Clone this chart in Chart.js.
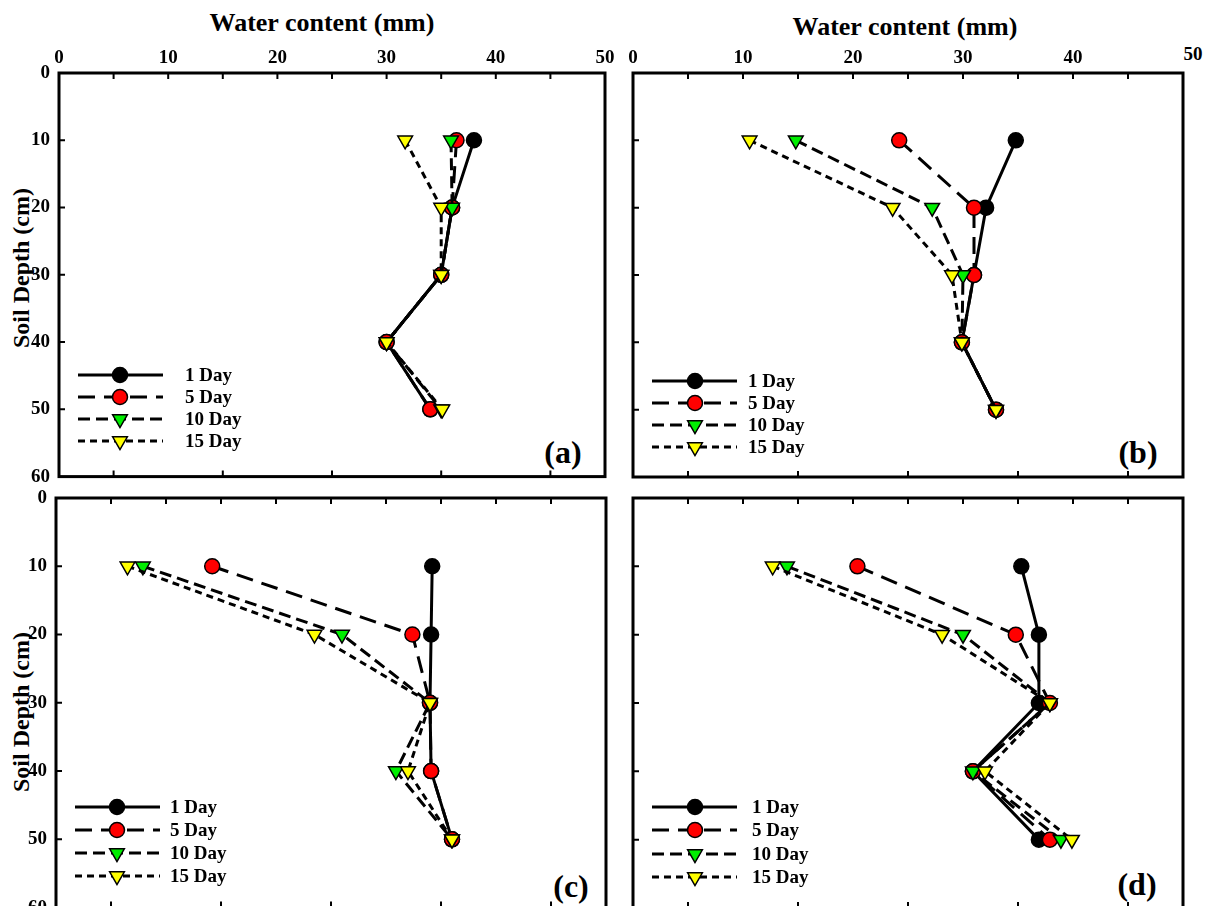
<!DOCTYPE html>
<html>
<head>
<meta charset="utf-8">
<title>Soil water content profiles</title>
<script src="https://cdn.jsdelivr.net/npm/chart.js@4.4.1/dist/chart.umd.min.js"></script>
<style>
  html, body { margin: 0; padding: 0; background: #fff; }
  body {
    width: 1209px; height: 906px; overflow: hidden; position: relative;
    font-family: "Liberation Serif", "Times New Roman", serif; font-weight: bold; color: #000;
  }
  canvas { position: absolute; }
  .txt { position: absolute; white-space: nowrap; line-height: 1; }
  .xtitle { font-size: 26px; transform: translate(-50%, -50%); }
  .ytitle { font-size: 24px; transform: translate(-50%, -50%) rotate(-90deg); }
  .plab { font-size: 32px; transform: translate(-50%, -50%); }
  .tick { font-size: 19px; transform: translate(-50%, -50%); }
</style>
</head>
<body>
<div class="txt xtitle" style="left:322px; top:23px;">Water content (mm)</div>
<div class="txt xtitle" style="left:905px; top:27px;">Water content (mm)</div>
<div class="txt tick" style="left:1193px; top:53px;">50</div>
<div class="txt ytitle" style="left:21px; top:268px;">Soil Depth (cm)</div>
<div class="txt ytitle" style="left:21px; top:712px;">Soil Depth (cm)</div>
<div class="txt plab" style="left:563px; top:452px;">(a)</div>
<div class="txt plab" style="left:1138px; top:452px;">(b)</div>
<div class="txt plab" style="left:571px; top:886px;">(c)</div>
<div class="txt plab" style="left:1137px; top:884px;">(d)</div>
<script>
// Depths (cm) and series names
const depths = [10, 20, 30, 40, 50];
const seriesNames = ['1 Day', '5 Day', '10 Day', '15 Day'];
const xTicks = [0, 10, 20, 30, 40, 50];
const yTicks = [0, 10, 20, 30, 40, 50, 60];
const topTicks = [5, 10, 15, 20, 25, 30, 35, 40, 45];
const bottomTicks = [5, 15, 25, 35, 45];
const leftTicks = [10, 20, 30, 40, 50];

// Water content (mm), panel (a)
const a1 = [38.0, 36.0, 35.0, 30.0, 34.0];
const a5 = [36.4, 36.0, 35.0, 30.0, 34.0];
const a10 = [35.9, 36.0, 35.0, 30.0, 35.0];
const a15 = [31.7, 35.0, 35.0, 30.0, 35.1];
// panel (b)
const b1 = [34.8, 32.1, 31.0, 29.9, 33.0];
const b5 = [24.2, 31.0, 31.0, 29.9, 33.0];
const b10 = [14.8, 27.2, 30.0, 29.9, 33.0];
const b15 = [10.6, 23.6, 29.0, 29.9, 33.0];
// panel (c)
const c1 = [34.2, 34.1, 34.0, 34.1, 36.0];
const c5 = [14.2, 32.4, 34.0, 34.1, 36.0];
const c10 = [7.9, 26.0, 34.0, 30.9, 36.0];
const c15 = [6.5, 23.5, 34.0, 32.0, 36.0];
// panel (d)
const d1 = [35.3, 36.9, 36.9, 30.9, 36.9];
const d5 = [20.4, 34.8, 37.9, 30.9, 37.9];
const d10 = [14.0, 30.0, 37.9, 30.9, 38.9];
const d15 = [12.7, 28.1, 37.9, 32.0, 39.9];

const seriesStyle = [
    { fill: '#000000', dash: [], shape: 'circle' },
    { fill: '#ff0000', dash: [17, 9], shape: 'circle' },
    { fill: '#00ee00', dash: [12, 6], shape: 'triangle' },
    { fill: '#ffff00', dash: [7, 5], shape: 'triangle' }
];

const panels = [
    { left: 59, top: 73, right: 605, bottom: 477, series: [a1, a5, a10, a15], xLabels: true, yLabels: true,
      legend: { x0: 78, x1: 163, mx: 120, tx: 185, rows: [375, 397, 419, 441] } },
    { left: 633, top: 73, right: 1183, bottom: 477, series: [b1, b5, b10, b15], xLabels: true, yLabels: false, hide50: true,
      legend: { x0: 652, x1: 737, mx: 695, tx: 748, rows: [381, 403, 425, 447] } },
    { left: 56, top: 498, right: 606, bottom: 908, series: [c1, c5, c10, c15], xLabels: false, yLabels: true,
      legend: { x0: 75, x1: 160, mx: 117, tx: 170, rows: [807, 830, 853, 876] } },
    { left: 633, top: 498, right: 1183, bottom: 908, series: [d1, d5, d10, d15], xLabels: false, yLabels: false,
      legend: { x0: 652, x1: 737, mx: 695, tx: 752, rows: [807, 830, 854, 877] } }
];

const PAD_L = 70, PAD_T = 50, PAD_R = 20, PAD_B = 20;
const tickFont = { family: '"Liberation Serif", "Times New Roman", serif', size: 19, weight: 'bold' };

function drawMarker(ctx, shape, x, y, fill) {
    ctx.beginPath();
    if (shape === 'circle') {
        ctx.arc(x, y, 7.5, 0, Math.PI * 2);
    } else {
        const r = 8.5;
        ctx.moveTo(x, y + r);
        ctx.lineTo(x - r * 0.866, y - r / 2);
        ctx.lineTo(x + r * 0.866, y - r / 2);
        ctx.closePath();
    }
    ctx.fillStyle = fill;
    ctx.fill();
    ctx.setLineDash([]);
    ctx.lineWidth = 1.5;
    ctx.strokeStyle = '#000';
    ctx.stroke();
}

// Box round the plot area, with short inward ticks
const framePlugin = {
    id: 'frame',
    beforeDatasetsDraw(chart) {
        const { ctx, chartArea: ca, scales: { x, y } } = chart;
        ctx.save();
        ctx.strokeStyle = '#000';
        ctx.lineWidth = 3;
        ctx.strokeRect(ca.left, ca.top, ca.right - ca.left, ca.bottom - ca.top);
        ctx.lineWidth = 2;
        ctx.beginPath();
        topTicks.forEach(v => {
            const px = x.getPixelForValue(v);
            ctx.moveTo(px, ca.top);
            ctx.lineTo(px, ca.top + 6);
        });
        bottomTicks.forEach(v => {
            const px = x.getPixelForValue(v);
            ctx.moveTo(px, ca.bottom);
            ctx.lineTo(px, ca.bottom - 6);
        });
        leftTicks.forEach(v => {
            const py = y.getPixelForValue(v);
            ctx.moveTo(ca.left, py);
            ctx.lineTo(ca.left + 6, py);
        });
        ctx.stroke();
        ctx.restore();
    }
};

// Legend drawn inside the plot: line sample, marker, then name
const legendPlugin = {
    id: 'panelLegend',
    afterDraw(chart, args, opts) {
        const ctx = chart.ctx;
        ctx.save();
        chart.data.datasets.forEach((ds, i) => {
            const st = seriesStyle[i];
            const ry = opts.rows[i];
            ctx.beginPath();
            ctx.setLineDash(st.dash);
            ctx.lineWidth = 3;
            ctx.strokeStyle = '#000';
            ctx.moveTo(opts.x0, ry);
            ctx.lineTo(opts.x1, ry);
            ctx.stroke();
            drawMarker(ctx, st.shape, opts.mx, ry, st.fill);
            ctx.fillStyle = '#000';
            ctx.font = 'bold 19px "Liberation Serif", "Times New Roman", serif';
            ctx.textBaseline = 'middle';
            ctx.textAlign = 'left';
            ctx.fillText(ds.label, opts.tx, ry + 1);
        });
        ctx.restore();
    }
};

panels.forEach(p => {
    const canvas = document.createElement('canvas');
    const w = p.right - p.left + PAD_L + PAD_R;
    const h = p.bottom - p.top + PAD_T + PAD_B;
    const offX = p.left - PAD_L, offY = p.top - PAD_T;
    canvas.width = w;
    canvas.height = h;
    canvas.style.left = offX + 'px';
    canvas.style.top = offY + 'px';
    canvas.style.width = w + 'px';
    canvas.style.height = h + 'px';
    document.body.appendChild(canvas);

    const datasets = p.series.map((vals, i) => ({
        label: seriesNames[i],
        data: vals.map((v, k) => ({ x: v, y: depths[k] })),
        showLine: true,
        borderColor: '#000',
        borderWidth: 3,
        borderDash: seriesStyle[i].dash,
        backgroundColor: seriesStyle[i].fill,
        pointBackgroundColor: seriesStyle[i].fill,
        pointBorderColor: '#000',
        pointBorderWidth: 1.5,
        pointStyle: seriesStyle[i].shape,
        pointRadius: seriesStyle[i].shape === 'circle' ? 7.5 : 8.5,
        pointRotation: seriesStyle[i].shape === 'circle' ? 0 : 180,
        tension: 0,
        order: 4 - i
    }));

    const lg = p.legend;
    new Chart(canvas, {
        type: 'scatter',
        data: { datasets: datasets },
        options: {
            responsive: false,
            animation: false,
            devicePixelRatio: 1,
            events: [],
            layout: { padding: { left: 0, top: 0, right: PAD_R, bottom: PAD_B } },
            plugins: {
                legend: { display: false },
                tooltip: { enabled: false },
                panelLegend: {
                    x0: lg.x0 - offX, x1: lg.x1 - offX, mx: lg.mx - offX, tx: lg.tx - offX,
                    rows: lg.rows.map(r => r - offY)
                }
            },
            scales: {
                x: {
                    type: 'linear', position: 'top', min: 0, max: 50,
                    afterFit: s => { s.height = PAD_T; },
                    afterBuildTicks: s => { s.ticks = xTicks.map(v => ({ value: v })); },
                    grid: { display: false, drawTicks: false },
                    border: { display: false },
                    ticks: {
                        display: p.xLabels, padding: 4, autoSkip: false, maxRotation: 0,
                        color: '#000', font: tickFont,
                        callback: v => (p.hide50 && v === 50) ? '' : String(v)
                    }
                },
                y: {
                    type: 'linear', position: 'left', min: 0, max: 60, reverse: true,
                    afterFit: s => { s.width = PAD_L; },
                    afterBuildTicks: s => { s.ticks = yTicks.map(v => ({ value: v })); },
                    grid: { display: false, drawTicks: false },
                    border: { display: false },
                    ticks: {
                        display: p.yLabels, padding: 9, autoSkip: false,
                        color: '#000', font: tickFont
                    }
                }
            }
        },
        plugins: [framePlugin, legendPlugin]
    });
});
</script>
</body>
</html>
